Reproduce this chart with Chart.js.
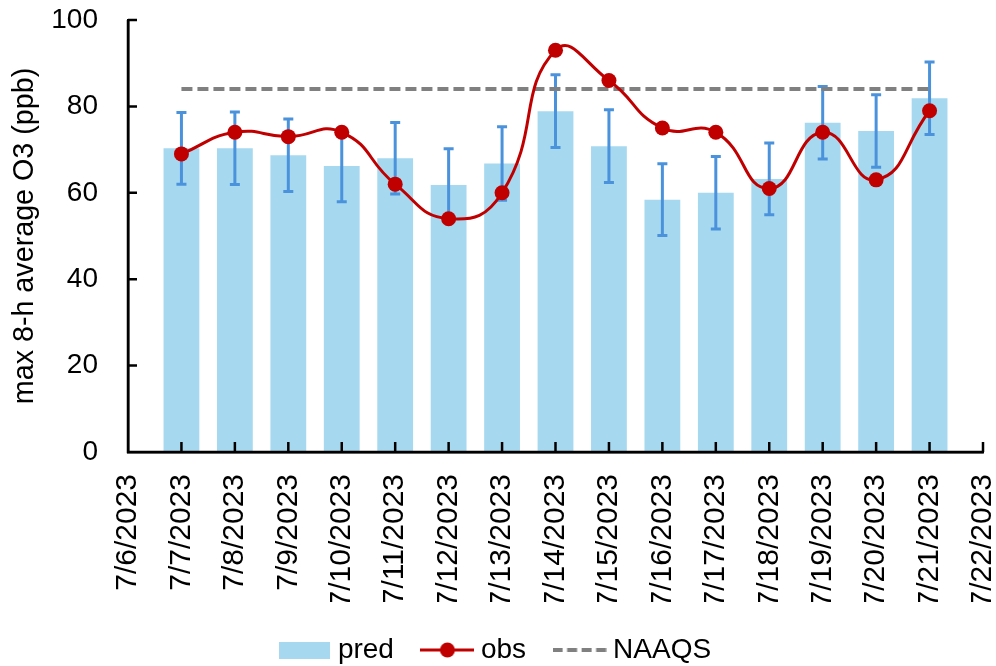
<!DOCTYPE html>
<html>
<head>
<meta charset="utf-8">
<script src="https://cdn.jsdelivr.net/npm/chart.js@4.4.0/dist/chart.umd.min.js"></script>
<style>
  html, body { margin: 0; padding: 0; background: #fff; }
</style>
</head>
<body>
<canvas id="o3Chart" width="996" height="666"></canvas>
<script>
// daily max 8-h O3, model vs monitor
const dates = ['7/6/2023', '7/7/2023', '7/8/2023', '7/9/2023', '7/10/2023', '7/11/2023',
  '7/12/2023', '7/13/2023', '7/14/2023', '7/15/2023', '7/16/2023', '7/17/2023',
  '7/18/2023', '7/19/2023', '7/20/2023', '7/21/2023', '7/22/2023'];
const pred = [null, 70.3, 70.3, 68.7, 66.2, 68.0, 61.8, 66.8, 78.9, 70.8, 58.4, 60.0, 63.2, 76.2, 74.3, 81.9, null];
const predErr = [null, 8.3, 8.4, 8.4, 8.3, 8.3, 8.4, 8.5, 8.4, 8.4, 8.3, 8.4, 8.3, 8.4, 8.4, 8.4, null];
const obs = [null, 69, 74, 73, 74, 62, 54, 60, 93, 86, 75, 74, 61, 74, 63, 79, null];
const naaqs = [null, 84, 84, 84, 84, 84, 84, 84, 84, 84, 84, 84, 84, 84, 84, 84, null];
const yTicks = [0, 20, 40, 60, 80, 100];

const FONT = "'Liberation Sans', Arial, sans-serif";
const barBlue = '#A6D8F0';
const errBlue = '#4A92DB';
const obsRed = '#C00000';
const limitGray = '#808080';

function swatch(w, h, draw) {
  const c = document.createElement('canvas');
  c.width = w; c.height = h;
  draw(c.getContext('2d'), w, h);
  return c;
}

const predSwatch = swatch(51, 17, (g, w, h) => { g.fillStyle = barBlue; g.fillRect(0, 0, w, h); });
const obsSwatch = swatch(54, 16, (g, w, h) => {
  g.strokeStyle = obsRed; g.lineWidth = 3;
  g.beginPath(); g.moveTo(0, h / 2); g.lineTo(w, h / 2); g.stroke();
  g.fillStyle = obsRed;
  g.beginPath(); g.arc(w / 2, h / 2, 7.5, 0, Math.PI * 2); g.fill();
});
const naaqsSwatch = swatch(54, 6, (g, w, h) => {
  g.strokeStyle = limitGray; g.lineWidth = 4; g.setLineDash([10, 4.5]);
  g.beginPath(); g.moveTo(0, h / 2); g.lineTo(w, h / 2); g.stroke();
});

// error bars on top of the pred columns, under the lines
const errorBars = {
  id: 'errorBars',
  afterDatasetDraw(chart, args) {
    if (args.index !== 0) return;
    const { ctx } = chart;
    const y = chart.scales.y;
    ctx.save();
    ctx.strokeStyle = errBlue;
    ctx.lineWidth = 3;
    args.meta.data.forEach((bar, i) => {
      if (pred[i] == null) return;
      const top = y.getPixelForValue(pred[i] + predErr[i]);
      const bot = y.getPixelForValue(pred[i] - predErr[i]);
      ctx.beginPath();
      ctx.moveTo(bar.x, top); ctx.lineTo(bar.x, bot);
      ctx.moveTo(bar.x - 5, top); ctx.lineTo(bar.x + 5, top);
      ctx.moveTo(bar.x - 5, bot); ctx.lineTo(bar.x + 5, bot);
      ctx.stroke();
    });
    ctx.restore();
  }
};

// axis lines and inward tick marks
const insideTicks = {
  id: 'insideTicks',
  afterDatasetsDraw(chart) {
    const { ctx, chartArea: a } = chart;
    const { x, y } = chart.scales;
    ctx.save();
    ctx.strokeStyle = '#000';
    ctx.lineWidth = 2.5;
    ctx.beginPath();
    ctx.moveTo(a.left, a.top); ctx.lineTo(a.left, a.bottom); ctx.lineTo(a.right, a.bottom);
    x.ticks.forEach((t, i) => {
      const px = x.getPixelForTick(i);
      ctx.moveTo(px, a.bottom); ctx.lineTo(px, a.bottom - 10);
    });
    y.ticks.forEach((t, i) => {
      const py = y.getPixelForTick(i);
      ctx.moveTo(a.left, py); ctx.lineTo(a.left + 9, py);
    });
    ctx.stroke();
    ctx.restore();
  }
};

new Chart(document.getElementById('o3Chart'), {
  type: 'bar',
  data: {
    labels: dates,
    datasets: [{
      label: 'pred',
      data: pred,
      backgroundColor: barBlue,
      barPercentage: 0.67,
      categoryPercentage: 1,
      order: 3
    }, {
      type: 'line',
      label: 'obs',
      data: obs,
      borderColor: obsRed,
      borderWidth: 3,
      tension: 0.5,
      pointRadius: 7.5,
      pointBackgroundColor: obsRed,
      pointBorderColor: obsRed,
      pointBorderWidth: 0,
      order: 1
    }, {
      type: 'line',
      label: 'NAAQS',
      data: naaqs,
      borderColor: limitGray,
      borderWidth: 4,
      borderDash: [11, 5],
      pointRadius: 0,
      order: 2
    }]
  },
  options: {
    responsive: false,
    animation: false,
    devicePixelRatio: 1,
    events: [],
    layout: { padding: { top: 20, right: 0, bottom: -8, left: 0 } },
    scales: {
      x: {
        offset: false,
        grid: { display: false, drawTicks: false },
        border: { display: true, color: '#000', width: 2.5 },
        afterFit(s) { s.height = 150; s.paddingLeft = 0; s.paddingRight = 13; },
        ticks: {
          autoSkip: false, minRotation: 90, maxRotation: 90, padding: 22,
          color: '#000', font: { family: FONT, size: 30, lineHeight: 1 }
        }
      },
      y: {
        min: 0,
        max: 100,
        grid: { display: false, drawTicks: false },
        border: { display: true, color: '#000', width: 2.5 },
        afterBuildTicks(s) { s.ticks = yTicks.map(v => ({ value: v })); },
        afterFit(s) { s.width = 128; s.paddingTop = 0; s.paddingBottom = 0; },
        ticks: { padding: 30, color: '#000', font: { family: FONT, size: 28 } },
        title: {
          display: true,
          text: 'max 8-h average O3 (ppb)',
          color: '#000',
          font: { family: FONT, size: 28.7 },
          padding: { top: 8, bottom: 0 }
        }
      }
    },
    plugins: {
      tooltip: { enabled: false },
      legend: {
        position: 'bottom',
        labels: {
          usePointStyle: true,
          pointStyleWidth: 39,
          boxHeight: 17,
          padding: 34,
          color: '#000',
          font: { family: FONT, size: 28 },
          generateLabels: () => [
            { text: 'pred', pointStyle: predSwatch, fillStyle: barBlue, strokeStyle: barBlue, lineWidth: 0, hidden: false, datasetIndex: 0 },
            { text: 'obs', pointStyle: obsSwatch, fillStyle: obsRed, strokeStyle: obsRed, lineWidth: 0, hidden: false, datasetIndex: 1 },
            { text: 'NAAQS', pointStyle: naaqsSwatch, fillStyle: limitGray, strokeStyle: limitGray, lineWidth: 0, hidden: false, datasetIndex: 2 }
          ]
        }
      }
    }
  },
  plugins: [errorBars, insideTicks]
});
</script>
</body>
</html>
